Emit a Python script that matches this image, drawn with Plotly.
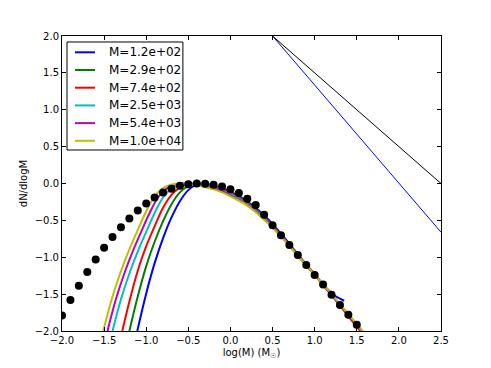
import plotly.graph_objects as go

# Reference points (black dots)
dots_x = [-2.0, -1.9, -1.8, -1.7, -1.6, -1.5, -1.4, -1.3, -1.2, -1.1, -1.0, -0.9, -0.8, -0.7,
          -0.6, -0.5, -0.4, -0.3, -0.2, -0.1, 0.0, 0.1, 0.2, 0.3, 0.4, 0.5, 0.6, 0.7, 0.8,
          0.9, 1.0, 1.1, 1.2, 1.3, 1.4, 1.5]
dots_y = [-1.79, -1.58, -1.385, -1.2, -1.03, -0.87, -0.724, -0.593, -0.475, -0.367, -0.271,
          -0.19, -0.122, -0.072, -0.032, -0.009, 0.0, -0.005, -0.018, -0.04, -0.077, -0.13,
          -0.208, -0.29, -0.425, -0.566, -0.70, -0.833, -0.968, -1.104, -1.24, -1.371,
          -1.507, -1.647, -1.778, -1.914]

# Cluster-mass curves
labels = ["M=1.2e+02", "M=2.9e+02", "M=7.4e+02", "M=2.5e+03", "M=5.4e+03", "M=1.0e+04"]
colors = ["#0000ff", "#008000", "#ff0000", "#00bfbf", "#bf00bf", "#bfbf00"]

right_x = [-0.1, 0.0, 0.2, 0.4, 0.6, 0.8, 1.0, 1.2, 1.4, 1.6]

m1_x = [-1.106, -1.0, -0.9, -0.8, -0.7, -0.6, -0.5, -0.4, -0.3, -0.2, -0.1, 0.0, 0.2,
        0.4, 0.6, 0.8, 1.0, 1.15, 1.25, 1.3, 1.35]
m1_y = [-2.0, -1.49, -1.08, -0.74, -0.46, -0.24, -0.09, -0.015, 0.0, -0.03, -0.065, -0.11,
        -0.24, -0.43, -0.68, -0.96, -1.23, -1.43, -1.53, -1.56, -1.59]

m2_x = [-1.2, -1.1, -1.0, -0.9, -0.8, -0.7, -0.6, -0.5, -0.4, -0.3, -0.2] + right_x
m2_y = [-2.0, -1.53, -1.12, -0.79, -0.51, -0.28, -0.12, -0.035, -0.005, -0.012, -0.035,
        -0.075, -0.125, -0.26, -0.45, -0.70, -0.97, -1.24, -1.51, -1.79, -2.07]

m3_x = [-1.284, -1.2, -1.1, -1.0, -0.9, -0.8, -0.7, -0.6, -0.5, -0.4, -0.3, -0.2] + right_x
m3_y = [-2.0, -1.6, -1.18, -0.85, -0.58, -0.33, -0.155, -0.055, -0.01, 0.0, -0.015, -0.045,
        -0.085, -0.135, -0.27, -0.46, -0.70, -0.97, -1.24, -1.51, -1.80, -2.08]

m4_x = [-1.4, -1.3, -1.2, -1.1, -1.0, -0.9, -0.8, -0.7, -0.6, -0.5, -0.4, -0.3,
        -0.2] + right_x
m4_y = [-2.0, -1.57, -1.22, -0.92, -0.655, -0.40, -0.19, -0.07, -0.015, 0.0, -0.008,
        -0.025, -0.055,
        -0.095, -0.145, -0.28, -0.47, -0.71, -0.97, -1.24, -1.51, -1.78, -2.06]

m5_x = [-1.46, -1.36, -1.26, -1.16, -1.06, -0.96, -0.86, -0.76, -0.66, -0.56, -0.4, -0.3,
        -0.2] + right_x
m5_y = [-2.0, -1.57, -1.22, -0.92, -0.655, -0.40, -0.19, -0.07, -0.015, 0.0, -0.018,
        -0.04, -0.065,
        -0.105, -0.16, -0.29, -0.48, -0.71, -0.98, -1.24, -1.51, -1.78, -2.05]

m6_x = [-1.51, -1.41, -1.31, -1.21, -1.11, -1.01, -0.91, -0.81, -0.71, -0.61, -0.5, -0.4,
        -0.3, -0.2] + right_x
m6_y = [-2.0, -1.57, -1.22, -0.92, -0.655, -0.40, -0.19, -0.07, -0.015, 0.0, -0.008,
        -0.025, -0.05, -0.08,
        -0.12, -0.175, -0.30, -0.49, -0.72, -0.98, -1.24, -1.50, -1.77, -2.04]

curves_x = [m1_x, m2_x, m3_x, m4_x, m5_x, m6_x]
curves_y = [m1_y, m2_y, m3_y, m4_y, m5_y, m6_y]

# Power-law reference lines
pl_x = [0.5, 2.5]
pl_black_y = [2.0, 0.0]
pl_blue_y = [2.0, -0.66]

fig = go.Figure()

for cx, cy, lab, col in zip(curves_x, curves_y, labels, colors):
    fig.add_trace(go.Scatter(x=cx, y=cy, mode="lines", name=lab, showlegend=False,
                             line=dict(color=col, width=2, shape="spline", smoothing=1.0)))

fig.add_trace(go.Scatter(x=dots_x, y=dots_y, mode="markers", showlegend=False,
                         marker=dict(color="black", size=8)))
fig.add_trace(go.Scatter(x=pl_x, y=pl_black_y, mode="lines", showlegend=False,
                         line=dict(color="black", width=1)))
fig.add_trace(go.Scatter(x=pl_x, y=pl_blue_y, mode="lines", showlegend=False,
                         line=dict(color="#0000ff", width=1)))

# matplotlib-style legend box drawn in paper coordinates
fig.add_shape(type="rect", xref="paper", yref="paper", x0=0.0132, x1=0.319,
              y0=0.6136, y1=0.9797, line=dict(color="black", width=1), fillcolor="white")
for i, (lab, col) in enumerate(zip(labels, colors)):
    ly = 0.9447 - i * 0.06
    fig.add_shape(type="line", xref="paper", yref="paper", x0=0.0343, x1=0.0871,
                  y0=ly, y1=ly, line=dict(color=col, width=2))
    fig.add_annotation(xref="paper", yref="paper", x=0.1179, y=ly, text=lab,
                       showarrow=False, xanchor="left", yanchor="middle",
                       font=dict(size=12, color="black"))

axis_style = dict(showline=True, linecolor="black", linewidth=1, mirror="ticks",
                  ticks="inside", ticklen=4, tickcolor="black", showgrid=False,
                  zeroline=False, automargin=False, tickfont=dict(size=10, color="black"))

# page body adds an 8px offset, so the figure is sized to compensate
fig.update_layout(
    width=483, height=360,
    margin=dict(l=54, r=50, t=28, b=37),
    plot_bgcolor="white", paper_bgcolor="white",
    font=dict(family="DejaVu Sans", color="black", size=10),
    showlegend=False,
)
fig.update_xaxes(range=[-2, 2.5], dtick=0.5, tickformat=".1f",
                 title=dict(text="log(M) (M<sub>☉</sub>)", font=dict(size=10), standoff=3),
                 **axis_style)
fig.update_yaxes(range=[-2, 2], dtick=0.5, tickformat=".1f",
                 title=dict(text="dN/dlogM", font=dict(size=10), standoff=5),
                 **axis_style)

fig.write_html("out.html")
